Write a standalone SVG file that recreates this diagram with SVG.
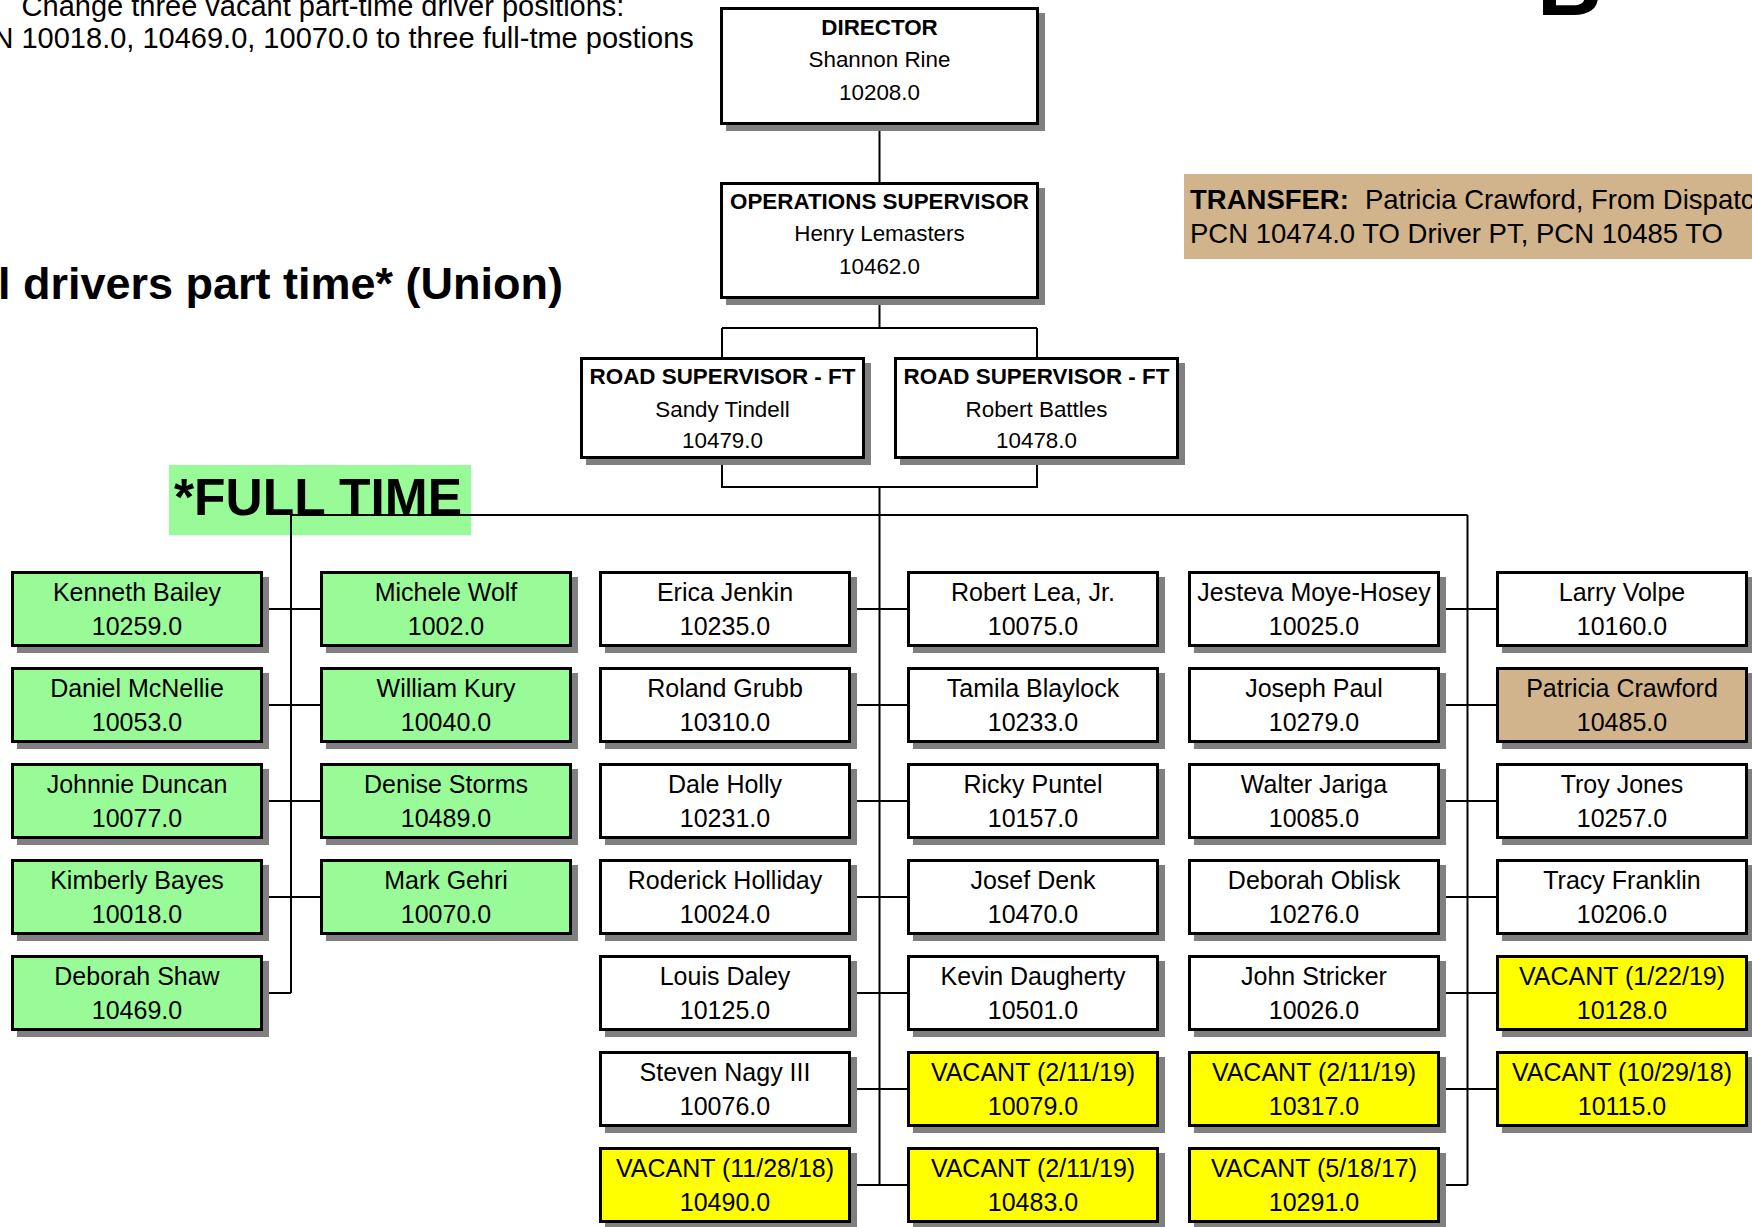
<svg xmlns="http://www.w3.org/2000/svg" width="1752" height="1227" viewBox="0 0 1752 1227">
<style>
text{font-family:"Liberation Sans",Arial,sans-serif;fill:#000}
.sh{fill:#808080}
.bx{stroke:#000;stroke-width:3}
.w{fill:#fff}.g{fill:#98fb98}.y{fill:#ffff00}.t{fill:#d2b48c}
.c{text-anchor:middle}
.s{font-size:22.4px}
.d{font-size:25px}
.b{font-weight:bold}
.ln{stroke:#000;stroke-width:2;fill:none}
</style>
<rect width="1752" height="1227" fill="#fff"/>
<g id="notes">
<text x="323" y="16" class="c" font-size="29">Change three vacant part-time driver positions:</text>
<text x="323" y="48" class="c" font-size="29">PCN 10018.0, 10469.0, 10070.0 to three full-tme postions</text>
<text x="563" y="299" text-anchor="end" font-size="45" font-weight="bold">All drivers part time* (Union)</text>
<text x="1537" y="15" font-size="90" font-weight="bold">B</text>
</g>
<g id="transfer">
<rect x="1184" y="174" width="568" height="85" class="t"/>
<text x="1190" y="209" font-size="27.5"><tspan font-weight="bold">TRANSFER:</tspan><tspan dx="16">Patricia Crawford, From Dispatcher</tspan></text>
<text x="1190" y="243" font-size="27.5">PCN 10474.0 TO Driver PT, PCN 10485 TO</text>
</g>
<g id="fulltime-label">
<rect x="169" y="465" width="302" height="70" class="g"/>
<text x="174" y="515" font-size="51.5" font-weight="bold">*FULL TIME</text>
</g>
<g id="connectors">
<path class="ln" d="M879.5 125V182M879.5 299V328M722 328H1037M722 328V357M1037 328V357M722 459V487H1037V459M879.5 487V1185"/>
<path class="ln" d="M291 515H1467.5M291 515V993M1467.5 515V1185"/>
<path class="ln" d="M263 609H320M263 705H320M263 801H320M263 897H320M263 993H291"/>
<path class="ln" d="M851 609H907M851 705H907M851 801H907M851 897H907M851 993H907M851 1089H907M851 1185H907"/>
<path class="ln" d="M1440 609H1496M1440 705H1496M1440 801H1496M1440 897H1496M1440 993H1496M1440 1089H1496M1440 1185H1467.5"/>
</g>
<g id="director">
<rect x="726" y="13" width="319" height="118" class="sh"/>
<rect x="721.5" y="8.5" width="316" height="115" class="bx w"/>
<text x="879.5" y="35" class="c s b">DIRECTOR</text>
<text x="879.5" y="67" class="c s">Shannon Rine</text>
<text x="879.5" y="100" class="c s">10208.0</text>
</g>
<g id="ops-supervisor">
<rect x="726" y="188" width="319" height="117" class="sh"/>
<rect x="721.5" y="183.5" width="316" height="114" class="bx w"/>
<text x="879.5" y="209" class="c s b">OPERATIONS SUPERVISOR</text>
<text x="879.5" y="241" class="c s">Henry Lemasters</text>
<text x="879.5" y="274" class="c s">10462.0</text>
</g>
<g id="road-sup-1">
<rect x="586" y="363" width="285" height="102" class="sh"/>
<rect x="581.5" y="358.5" width="282" height="99" class="bx w"/>
<text x="722.5" y="384" class="c s b">ROAD SUPERVISOR - FT</text>
<text x="722.5" y="417" class="c s">Sandy Tindell</text>
<text x="722.5" y="448" class="c s">10479.0</text>
</g>
<g id="road-sup-2">
<rect x="900" y="363" width="285" height="102" class="sh"/>
<rect x="895.5" y="358.5" width="282" height="99" class="bx w"/>
<text x="1036.5" y="384" class="c s b">ROAD SUPERVISOR - FT</text>
<text x="1036.5" y="417" class="c s">Robert Battles</text>
<text x="1036.5" y="448" class="c s">10478.0</text>
</g>
<defs>
<rect id="shd" width="252" height="76" class="sh"/>
</defs>
<g id="kenneth-bailey"><use href="#shd" x="17" y="577"/><rect x="12.5" y="572.5" width="249" height="73" class="bx g"/><text x="137" y="601" class="c d">Kenneth Bailey</text><text x="137" y="635" class="c d">10259.0</text></g>
<g id="daniel-mcnellie"><use href="#shd" x="17" y="673"/><rect x="12.5" y="668.5" width="249" height="73" class="bx g"/><text x="137" y="697" class="c d">Daniel McNellie</text><text x="137" y="731" class="c d">10053.0</text></g>
<g id="johnnie-duncan"><use href="#shd" x="17" y="769"/><rect x="12.5" y="764.5" width="249" height="73" class="bx g"/><text x="137" y="793" class="c d">Johnnie Duncan</text><text x="137" y="827" class="c d">10077.0</text></g>
<g id="kimberly-bayes"><use href="#shd" x="17" y="865"/><rect x="12.5" y="860.5" width="249" height="73" class="bx g"/><text x="137" y="889" class="c d">Kimberly Bayes</text><text x="137" y="923" class="c d">10018.0</text></g>
<g id="deborah-shaw"><use href="#shd" x="17" y="961"/><rect x="12.5" y="956.5" width="249" height="73" class="bx g"/><text x="137" y="985" class="c d">Deborah Shaw</text><text x="137" y="1019" class="c d">10469.0</text></g>

<g id="michele-wolf"><use href="#shd" x="326" y="577"/><rect x="321.5" y="572.5" width="249" height="73" class="bx g"/><text x="446" y="601" class="c d">Michele Wolf</text><text x="446" y="635" class="c d">1002.0</text></g>
<g id="william-kury"><use href="#shd" x="326" y="673"/><rect x="321.5" y="668.5" width="249" height="73" class="bx g"/><text x="446" y="697" class="c d">William Kury</text><text x="446" y="731" class="c d">10040.0</text></g>
<g id="denise-storms"><use href="#shd" x="326" y="769"/><rect x="321.5" y="764.5" width="249" height="73" class="bx g"/><text x="446" y="793" class="c d">Denise Storms</text><text x="446" y="827" class="c d">10489.0</text></g>
<g id="mark-gehri"><use href="#shd" x="326" y="865"/><rect x="321.5" y="860.5" width="249" height="73" class="bx g"/><text x="446" y="889" class="c d">Mark Gehri</text><text x="446" y="923" class="c d">10070.0</text></g>

<g id="erica-jenkin"><use href="#shd" x="605" y="577"/><rect x="600.5" y="572.5" width="249" height="73" class="bx w"/><text x="725" y="601" class="c d">Erica Jenkin</text><text x="725" y="635" class="c d">10235.0</text></g>
<g id="roland-grubb"><use href="#shd" x="605" y="673"/><rect x="600.5" y="668.5" width="249" height="73" class="bx w"/><text x="725" y="697" class="c d">Roland Grubb</text><text x="725" y="731" class="c d">10310.0</text></g>
<g id="dale-holly"><use href="#shd" x="605" y="769"/><rect x="600.5" y="764.5" width="249" height="73" class="bx w"/><text x="725" y="793" class="c d">Dale Holly</text><text x="725" y="827" class="c d">10231.0</text></g>
<g id="roderick-holliday"><use href="#shd" x="605" y="865"/><rect x="600.5" y="860.5" width="249" height="73" class="bx w"/><text x="725" y="889" class="c d">Roderick Holliday</text><text x="725" y="923" class="c d">10024.0</text></g>
<g id="louis-daley"><use href="#shd" x="605" y="961"/><rect x="600.5" y="956.5" width="249" height="73" class="bx w"/><text x="725" y="985" class="c d">Louis Daley</text><text x="725" y="1019" class="c d">10125.0</text></g>
<g id="steven-nagy"><use href="#shd" x="605" y="1057"/><rect x="600.5" y="1052.5" width="249" height="73" class="bx w"/><text x="725" y="1081" class="c d">Steven Nagy III</text><text x="725" y="1115" class="c d">10076.0</text></g>
<g id="vacant-10490"><use href="#shd" x="605" y="1153"/><rect x="600.5" y="1148.5" width="249" height="73" class="bx y"/><text x="725" y="1177" class="c d">VACANT (11/28/18)</text><text x="725" y="1211" class="c d">10490.0</text></g>

<g id="robert-lea"><use href="#shd" x="913" y="577"/><rect x="908.5" y="572.5" width="249" height="73" class="bx w"/><text x="1033" y="601" class="c d">Robert Lea, Jr.</text><text x="1033" y="635" class="c d">10075.0</text></g>
<g id="tamila-blaylock"><use href="#shd" x="913" y="673"/><rect x="908.5" y="668.5" width="249" height="73" class="bx w"/><text x="1033" y="697" class="c d">Tamila Blaylock</text><text x="1033" y="731" class="c d">10233.0</text></g>
<g id="ricky-puntel"><use href="#shd" x="913" y="769"/><rect x="908.5" y="764.5" width="249" height="73" class="bx w"/><text x="1033" y="793" class="c d">Ricky Puntel</text><text x="1033" y="827" class="c d">10157.0</text></g>
<g id="josef-denk"><use href="#shd" x="913" y="865"/><rect x="908.5" y="860.5" width="249" height="73" class="bx w"/><text x="1033" y="889" class="c d">Josef Denk</text><text x="1033" y="923" class="c d">10470.0</text></g>
<g id="kevin-daugherty"><use href="#shd" x="913" y="961"/><rect x="908.5" y="956.5" width="249" height="73" class="bx w"/><text x="1033" y="985" class="c d">Kevin Daugherty</text><text x="1033" y="1019" class="c d">10501.0</text></g>
<g id="vacant-10079"><use href="#shd" x="913" y="1057"/><rect x="908.5" y="1052.5" width="249" height="73" class="bx y"/><text x="1033" y="1081" class="c d">VACANT (2/11/19)</text><text x="1033" y="1115" class="c d">10079.0</text></g>
<g id="vacant-10483"><use href="#shd" x="913" y="1153"/><rect x="908.5" y="1148.5" width="249" height="73" class="bx y"/><text x="1033" y="1177" class="c d">VACANT (2/11/19)</text><text x="1033" y="1211" class="c d">10483.0</text></g>

<g id="jesteva-moye-hosey"><use href="#shd" x="1194" y="577"/><rect x="1189.5" y="572.5" width="249" height="73" class="bx w"/><text x="1314" y="601" class="c d">Jesteva Moye-Hosey</text><text x="1314" y="635" class="c d">10025.0</text></g>
<g id="joseph-paul"><use href="#shd" x="1194" y="673"/><rect x="1189.5" y="668.5" width="249" height="73" class="bx w"/><text x="1314" y="697" class="c d">Joseph Paul</text><text x="1314" y="731" class="c d">10279.0</text></g>
<g id="walter-jariga"><use href="#shd" x="1194" y="769"/><rect x="1189.5" y="764.5" width="249" height="73" class="bx w"/><text x="1314" y="793" class="c d">Walter Jariga</text><text x="1314" y="827" class="c d">10085.0</text></g>
<g id="deborah-oblisk"><use href="#shd" x="1194" y="865"/><rect x="1189.5" y="860.5" width="249" height="73" class="bx w"/><text x="1314" y="889" class="c d">Deborah Oblisk</text><text x="1314" y="923" class="c d">10276.0</text></g>
<g id="john-stricker"><use href="#shd" x="1194" y="961"/><rect x="1189.5" y="956.5" width="249" height="73" class="bx w"/><text x="1314" y="985" class="c d">John Stricker</text><text x="1314" y="1019" class="c d">10026.0</text></g>
<g id="vacant-10317"><use href="#shd" x="1194" y="1057"/><rect x="1189.5" y="1052.5" width="249" height="73" class="bx y"/><text x="1314" y="1081" class="c d">VACANT (2/11/19)</text><text x="1314" y="1115" class="c d">10317.0</text></g>
<g id="vacant-10291"><use href="#shd" x="1194" y="1153"/><rect x="1189.5" y="1148.5" width="249" height="73" class="bx y"/><text x="1314" y="1177" class="c d">VACANT (5/18/17)</text><text x="1314" y="1211" class="c d">10291.0</text></g>

<g id="larry-volpe"><use href="#shd" x="1502" y="577"/><rect x="1497.5" y="572.5" width="249" height="73" class="bx w"/><text x="1622" y="601" class="c d">Larry Volpe</text><text x="1622" y="635" class="c d">10160.0</text></g>
<g id="patricia-crawford"><use href="#shd" x="1502" y="673"/><rect x="1497.5" y="668.5" width="249" height="73" class="bx t"/><text x="1622" y="697" class="c d">Patricia Crawford</text><text x="1622" y="731" class="c d">10485.0</text></g>
<g id="troy-jones"><use href="#shd" x="1502" y="769"/><rect x="1497.5" y="764.5" width="249" height="73" class="bx w"/><text x="1622" y="793" class="c d">Troy Jones</text><text x="1622" y="827" class="c d">10257.0</text></g>
<g id="tracy-franklin"><use href="#shd" x="1502" y="865"/><rect x="1497.5" y="860.5" width="249" height="73" class="bx w"/><text x="1622" y="889" class="c d">Tracy Franklin</text><text x="1622" y="923" class="c d">10206.0</text></g>
<g id="vacant-10128"><use href="#shd" x="1502" y="961"/><rect x="1497.5" y="956.5" width="249" height="73" class="bx y"/><text x="1622" y="985" class="c d">VACANT (1/22/19)</text><text x="1622" y="1019" class="c d">10128.0</text></g>
<g id="vacant-10115"><use href="#shd" x="1502" y="1057"/><rect x="1497.5" y="1052.5" width="249" height="73" class="bx y"/><text x="1622" y="1081" class="c d">VACANT (10/29/18)</text><text x="1622" y="1115" class="c d">10115.0</text></g>
</svg>
